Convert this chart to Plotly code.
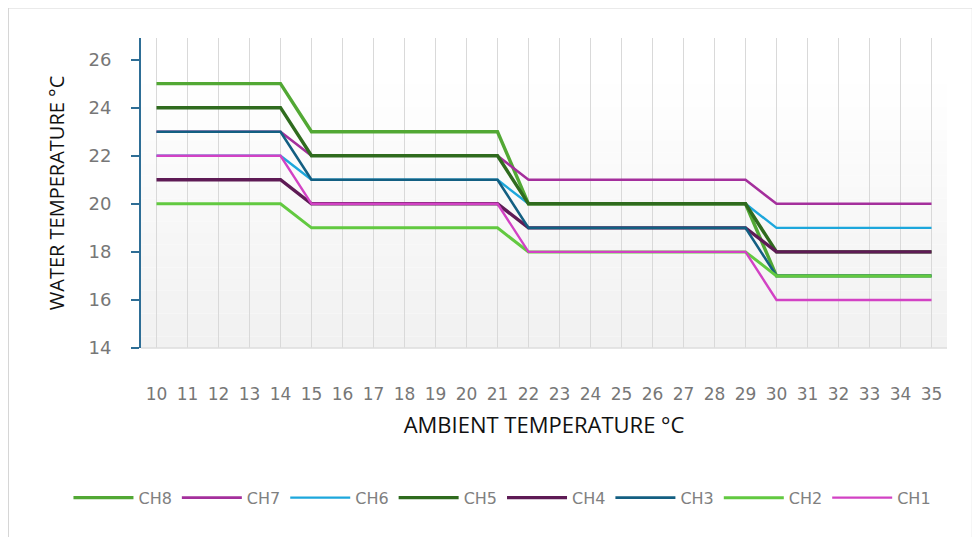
import plotly.graph_objects as go

categories = [str(v) for v in range(10, 36)]

series_names = ["CH8", "CH7", "CH6", "CH5", "CH4", "CH3", "CH2", "CH1"]

ch8 = [25, 25, 25, 25, 25, 23, 23, 23, 23, 23, 23, 23, 20, 20, 20, 20, 20, 20, 20, 20, 17, 17, 17, 17, 17, 17]
ch7 = [23, 23, 23, 23, 23, 22, 22, 22, 22, 22, 22, 22, 21, 21, 21, 21, 21, 21, 21, 21, 20, 20, 20, 20, 20, 20]
ch6 = [22, 22, 22, 22, 22, 21, 21, 21, 21, 21, 21, 21, 20, 20, 20, 20, 20, 20, 20, 20, 19, 19, 19, 19, 19, 19]
ch5 = [24, 24, 24, 24, 24, 22, 22, 22, 22, 22, 22, 22, 20, 20, 20, 20, 20, 20, 20, 20, 18, 18, 18, 18, 18, 18]
ch4 = [21, 21, 21, 21, 21, 20, 20, 20, 20, 20, 20, 20, 19, 19, 19, 19, 19, 19, 19, 19, 18, 18, 18, 18, 18, 18]
ch3 = [23, 23, 23, 23, 23, 21, 21, 21, 21, 21, 21, 21, 19, 19, 19, 19, 19, 19, 19, 19, 17, 17, 17, 17, 17, 17]
ch2 = [20, 20, 20, 20, 20, 19, 19, 19, 19, 19, 19, 19, 18, 18, 18, 18, 18, 18, 18, 18, 17, 17, 17, 17, 17, 17]
ch1 = [22, 22, 22, 22, 22, 20, 20, 20, 20, 20, 20, 20, 18, 18, 18, 18, 18, 18, 18, 18, 16, 16, 16, 16, 16, 16]

series_values = [ch8, ch7, ch6, ch5, ch4, ch3, ch2, ch1]
colors = ["#52a834", "#a42f9c", "#1da7dc", "#2f6b1e", "#5e1b55", "#135f82", "#62c940", "#d242c4"]
widths = [3.4, 2.6, 2.4, 3.4, 3.4, 2.6, 3.0, 2.4]

y_ticks = [14, 16, 18, 20, 22, 24, 26]

fig = go.Figure()
for name, vals, col, w in zip(series_names, series_values, colors, widths):
    fig.add_trace(go.Scatter(x=categories, y=vals, mode="lines", name=name,
                             line=dict(color=col, width=w)))

# gradient plot background
shapes = []
n = 24
top = 0.89
for i in range(n):
    y0 = top * i / n
    y1 = top * (i + 1) / n
    f = i / (n - 1)
    g = int(round(241 + (255 - 241) * f))
    shapes.append(dict(type="rect", xref="paper", yref="paper", x0=0, x1=1, y0=y0, y1=y1,
                       fillcolor=f"rgb({g},{g},{g})", line=dict(width=0), layer="below"))
# outer frame
shapes.append(dict(type="rect", xref="paper", yref="paper", x0=-0.165, x1=1.032, y0=-0.65, y1=1.098,
                   line=dict(color="#d6d6d6", width=2), fillcolor="rgba(0,0,0,0)", layer="below"))
# bottom axis line
shapes.append(dict(type="line", xref="paper", yref="paper", x0=0, x1=1, y0=0, y1=0,
                   line=dict(color="#dcdcdc", width=1.5), layer="above"))

fig.update_layout(
    width=980, height=537,
    margin=dict(l=133, r=41, t=30, b=197, autoexpand=False),
    paper_bgcolor="white", plot_bgcolor="white",
    font=dict(family="Open Sans", color="#666"),
    shapes=shapes,
    showlegend=True,
    legend=dict(orientation="h", x=-0.09, xanchor="left", y=-0.483, yanchor="middle",
                font=dict(size=16, color="#808080", family="DejaVu Sans"), itemwidth=60, tracegroupgap=0,
                bgcolor="rgba(0,0,0,0)"),
    xaxis=dict(type="category", range=[-0.5, 25.5], showgrid=True, gridcolor="#d9d9d9", gridwidth=1,
               tickfont=dict(size=17, color="#777", family="DejaVu Sans"), tickangle=0,
               ticklabelstandoff=34,
               showline=False, zeroline=False, ticks="", automargin=False,
               title=dict(text="AMBIENT TEMPERATURE °C", font=dict(size=22, color="#111", family="Open Sans"),
                          standoff=14)),
    yaxis=dict(range=[14, 26.9], tickvals=y_ticks, showgrid=False, zeroline=False,
               showline=True, linecolor="#2e6e96", linewidth=2, automargin=False,
               ticks="outside", ticklen=8, tickcolor="#2e6e96", tickwidth=2,
               ticklabelstandoff=16,
               tickfont=dict(size=18, color="#777", family="DejaVu Sans"),
               title=dict(text="WATER TEMPERATURE °C", font=dict(size=20, color="#111", family="Open Sans"),
                          standoff=18)),
)

fig.write_html("out.html")
